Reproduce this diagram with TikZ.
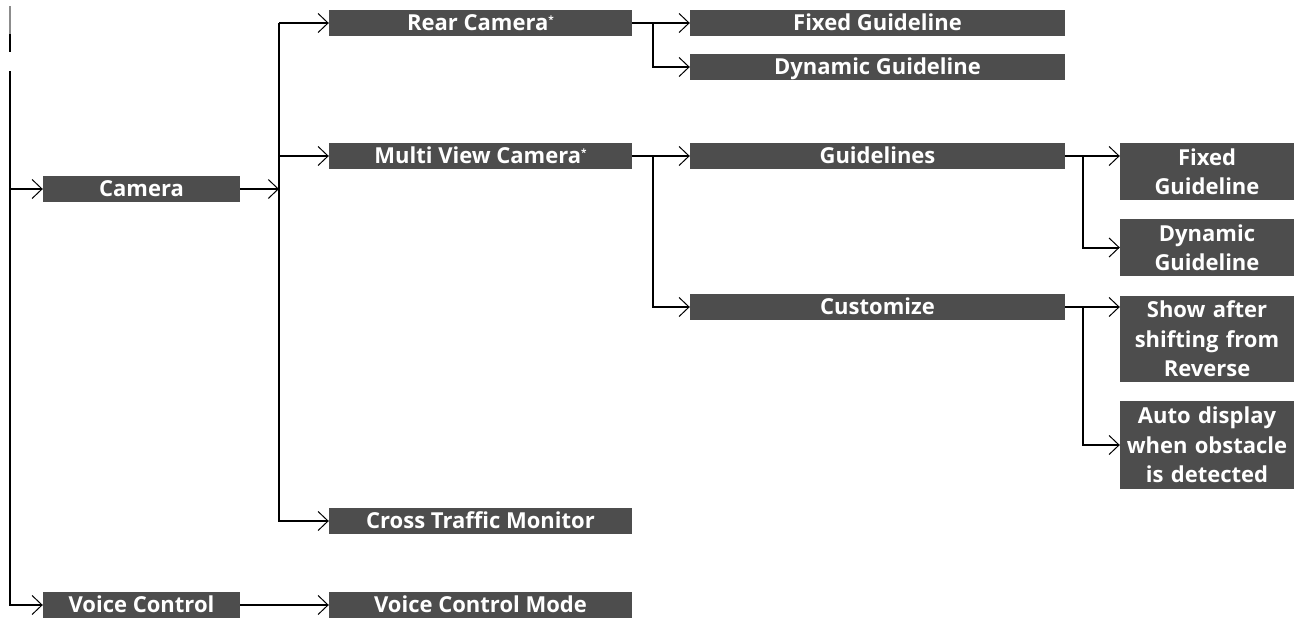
\documentclass[tikz,border=0pt]{standalone}
\usepackage{fontspec}
\setsansfont{Open Sans}
\usetikzlibrary{arrows.meta}
\definecolor{boxgray}{RGB}{77,77,77}
\definecolor{stubgray}{RGB}{140,140,140}
\tikzset{
  menubox/.style={fill=boxgray, text=white, inner sep=0pt, align=center,
    font=\sffamily\bfseries\fontsize{22}{29.5}\selectfont},
  oneline/.style={menubox, minimum height=26pt, text height=14pt, text depth=0pt},
  wide1/.style={oneline, minimum width=197pt},
  wide2/.style={oneline, minimum width=303pt},
  wide3/.style={oneline, minimum width=375pt},
  narrow/.style={menubox, text width=174pt},
  conn/.style={line width=2pt, -{Straight Barb[length=10pt,width=19pt,line width=1pt]}},
  plain/.style={line width=2pt}
}
\newcommand{\starmark}{\raisebox{7pt}{\fontsize{10}{10}\selectfont *}}
\begin{document}
\begin{tikzpicture}[x=1pt,y=-1pt]
\useasboundingbox (0,0) rectangle (1304,619);
% boxes
\node[wide1] (camera) at (141.5,189) {Camera};
\node[wide1] (voice) at (141.5,605) {Voice Control};
\node[wide2] (rear) at (480.5,23) {Rear Camera\starmark};
\node[wide2] (multi) at (480.5,156) {Multi View Camera\starmark};
\node[wide2] (cross) at (480.5,521) {Cross Traffic Monitor};
\node[wide2] (vcm) at (480.5,605) {Voice Control Mode};
\node[wide3] (fixeda) at (877.5,23) {Fixed Guideline};
\node[wide3] (dyna) at (877.5,67) {Dynamic Guideline};
\node[wide3] (guide) at (877.5,156) {Guidelines};
\node[wide3] (cust) at (877.5,307) {Customize};
\node[narrow, minimum height=57pt] (fixedb) at (1207,171.5) {Fixed\\Guideline};
\node[narrow, minimum height=57pt] (dynb) at (1207,247.5) {Dynamic\\Guideline};
\node[narrow, minimum height=86pt] (show) at (1207,339) {Show after\\shifting from\\Reverse};
\node[narrow, minimum height=88pt] (auto) at (1207,445) {Auto display\\when obstacle\\is detected};
% junction coordinates
\coordinate (stubA) at (10,6);
\coordinate (stubB) at (10,34);
\coordinate (stubC) at (10,52);
\coordinate (ltop) at (10,71);
\coordinate (t1) at (279,23);
\coordinate (t2) at (653,23);
\coordinate (t3) at (653,156);
\coordinate (t4) at (1083,156);
\coordinate (t5) at (1083,307);
% stub at top left
\draw[stubgray, line width=1.5pt] (stubA) -- (stubB);
\draw[plain] (stubB) -- (stubC);
% connectors
\draw[conn] (ltop) |- (camera.west);
\draw[conn] (ltop) |- (voice.west);
\draw[conn] (camera.east) -- (camera.east -| t1);
\draw[conn] (t1) -- (rear.west);
\draw[conn] (t1) |- (multi.west);
\draw[conn] (t1) |- (cross.west);
\draw[conn] (rear.east) -- (fixeda.west);
\draw[conn] (t2) |- (dyna.west);
\draw[conn] (multi.east) -- (guide.west);
\draw[conn] (t3) |- (cust.west);
\draw[conn] (guide.east) -- (guide.east -| fixedb.west);
\draw[conn] (t4) |- (dynb.west);
\draw[conn] (cust.east) -- (cust.east -| show.west);
\draw[conn] (t5) |- (auto.west);
\draw[conn] (voice.east) -- (vcm.west);
\end{tikzpicture}
\end{document}
